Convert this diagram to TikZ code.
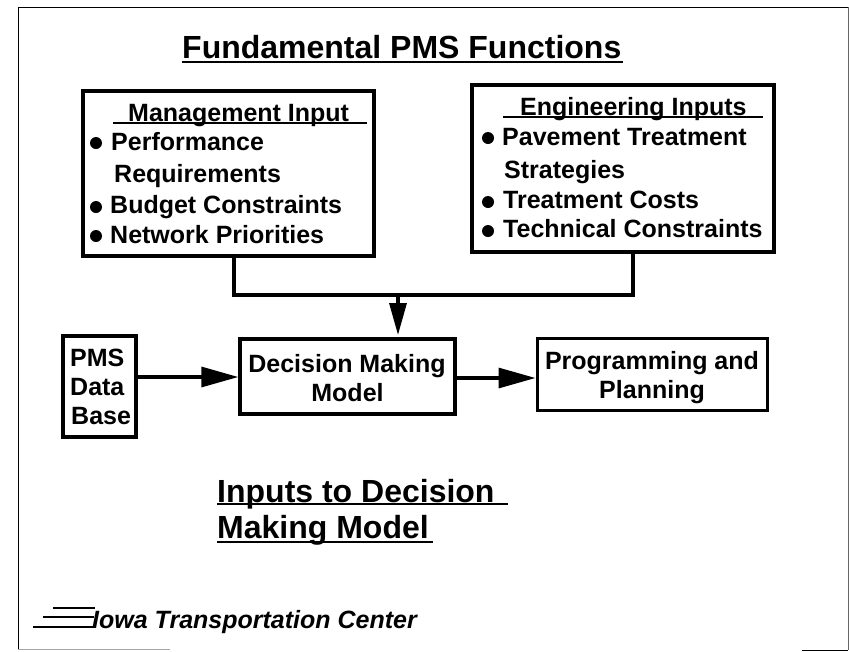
\documentclass[tikz,border=0pt]{standalone}
\usepackage{fontspec}
\setmainfont{Liberation Sans}
\usetikzlibrary{
    arrows.meta,
    positioning
}
\tikzset{
    box/.style={draw, line width=3.4pt, inner sep=0pt},
    line/.style={line width=3.2pt},
    bigtip/.style={-{Triangle[length=37pt,width=20pt]}},
    title/.style={font=\fontsize{32}{34}\bfseries, inner sep=0pt, anchor=base west},
    item/.style={font=\fontsize{25}{27}\bfseries, inner sep=0pt, anchor=base west},
    mid/.style={font=\fontsize{25}{27}\bfseries, inner sep=0pt, anchor=base},
    dot/.style={circle, fill, inner sep=0pt, minimum size=12pt},
    frame/.style={line width=1pt}
}
\newcommand{\ruled}[3][3pt]{\rlap{\rule[-#1]{#2}{2pt}}#3}
\begin{document}
\begin{tikzpicture}[x=1pt,y=-1pt]
    \useasboundingbox (0,0) rectangle (849,651);
    % page frame, the bottom edge is mostly gone
    \coordinate (ftl) at (18,7);
    \coordinate (fbl) at (18,649);
    \coordinate (fbm) at (170,649);
    \coordinate (fbn) at (802,650);
    \coordinate (fbr) at (848,650);
    \coordinate (ftr) at (848,7);
    \draw[frame] (fbl) -- (ftl) -- (ftr);
    \draw[frame, black!60] (ftr) -- (fbr);
    \draw[frame, black!35] (fbl) -- (fbm);
    \draw[frame] (fbn) -- (fbr);

    \node[title] (heading) at (182,58) {\ruled[5pt]{441pt}{Fundamental PMS Functions}};

    % input boxes
    \node[box, minimum width=291pt, minimum height=165pt] (mgmt) at (228.5,173.5) {};
    \node[box, minimum width=302pt, minimum height=167pt] (eng) at (623,168.5) {};
    \node[item] (mgmth) at (113,121) {\ruled{254pt}{\hspace{15pt}Management Input}};
    \node[item] (m1) at (111,150) {Performance};
    \node[item] (m1b) at (114,182) {Requirements};
    \node[item] (m2) at (110,213) {Budget Constraints};
    \node[item] (m3) at (110,243) {Network Priorities};
    \node[item] (engh) at (503,115) {\ruled{260pt}{\hspace{17pt}Engineering Inputs}};
    \node[item] (e1) at (502,145) {Pavement Treatment};
    \node[item] (e1b) at (504,178) {Strategies};
    \node[item] (e2) at (503,208) {Treatment Costs};
    \node[item] (e3) at (503,237) {Technical Constraints};
    \foreach \dotname/\dotx/\doty in {dm1/96/143, dm2/96/207, dm3/96/236, de1/488/138, de2/488/202, de3/488/231}
        \node[dot] (\dotname) at (\dotx,\doty) {};

    % lower row
    \node[box, minimum width=73pt, minimum height=101pt] (pms) at (99.5,386.5) {};
    \node[item] (pms1) at (70,366) {PMS};
    \node[item] (pms2) at (70,395) {Data};
    \node[item] (pms3) at (71,424) {Base};
    \node[box, minimum width=215pt, minimum height=75pt] (dm) at (347.5,376.5) {};
    \node[mid] (dm1) at (347,372) {Decision Making};
    \node[mid] (dm2) at (347.5,401) {Model};
    \node[box, line width=3pt, minimum width=230pt, minimum height=72pt] (pp) at (652,374) {};
    \node[mid] (pp1) at (652,369) {Programming and};
    \node[mid] (pp2) at (652,398) {Planning};

    \node[title] (sub1) at (217,502) {\ruled{291pt}{Inputs to Decision}};
    \node[title] (sub2) at (217,538) {\ruled[5pt]{216pt}{Making Model}};

    % logo
    \node[font=\fontsize{25}{27}\bfseries\itshape, inner sep=0pt, anchor=base west] (iowa) at (92,628) {Iowa Transportation Center};
    \coordinate (l1) at (53,608);
    \coordinate (l1e) at (95,608);
    \coordinate (l2) at (43,617);
    \coordinate (l2e) at (94,617);
    \coordinate (l3) at (33,627);
    \coordinate (l3e) at (93,627);
    \draw[line width=1.3pt] (l1) -- (l1e);
    \draw[line width=1.3pt] (l2) -- (l2e);
    \draw[line width=1.6pt] (l3) -- (l3e);

    % connectors
    \coordinate (join) at (398,295);
    \coordinate (mout) at (234,256);
    \coordinate (eout) at (633,252);
    \coordinate (dmin) at (398,335);
    \draw[line] (mout) |- (join);
    \draw[line] (eout) |- (join);
    \draw[line, -{Triangle[length=32pt,width=17pt]}] (join) -- (dmin);
    \draw[line, bigtip] (pms.east |- 0,377) -- (dm.west |- 0,377);
    \draw[line, bigtip] (dm.east |- 0,378) -- (pp.west |- 0,378);
\end{tikzpicture}
\end{document}
